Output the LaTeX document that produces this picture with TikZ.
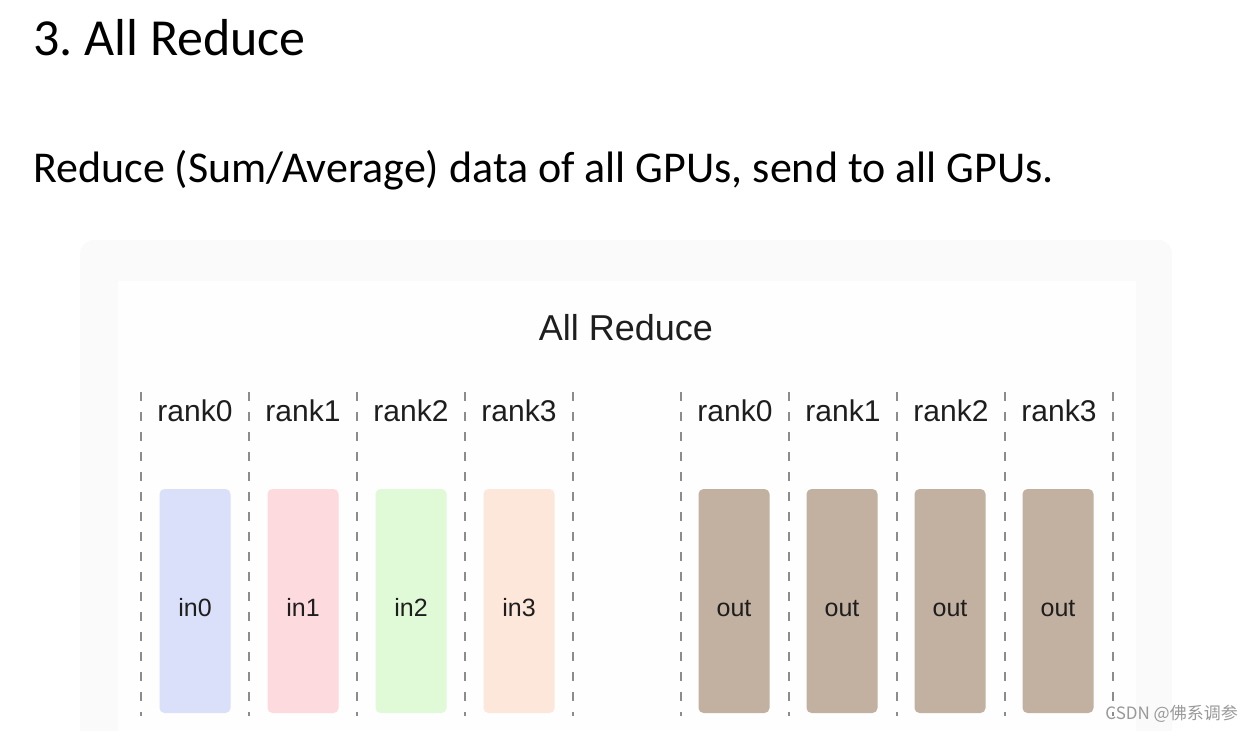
\documentclass[tikz,border=0pt]{standalone}
\usepackage{fontspec}
\setmainfont{Carlito}
\newfontfamily\diafont{Liberation Sans}
\newfontfamily\cjkfont{Noto Sans CJK SC}
\definecolor{inblue}{RGB}{219,224,250}
\definecolor{inpink}{RGB}{252,218,222}
\definecolor{ingreen}{RGB}{224,250,216}
\definecolor{inpeach}{RGB}{253,231,218}
\definecolor{outbrown}{RGB}{194,177,160}
\definecolor{sepgray}{RGB}{140,140,140}
\definecolor{txtdark}{RGB}{30,30,30}
\frenchspacing

\begin{document}
\begin{tikzpicture}[x=1pt,y=-1pt]
\tikzstyle{buf}=[rectangle, rounded corners=5pt, inner sep=0pt,
                 minimum width=71pt, minimum height=224pt, text=txtdark,
                 text height=30pt, text depth=0pt,
                 font=\diafont\fontsize{25}{25}\selectfont]
\tikzstyle{rk}=[inner sep=0pt, text=txtdark, font=\diafont\fontsize{30}{30}\selectfont]
\tikzstyle{sep}=[sepgray, line width=1.3pt, dash pattern=on 9pt off 11pt]
\useasboundingbox (0,0) rectangle (1251,731);
\fill[white] (0,0) rectangle (1251,731);
% panel
\fill[gray!4, rounded corners=14pt] (80,240) rectangle (1172,760);
\fill[gray!1] (118,281) rectangle (1136,760);
% headings
\node[anchor=base west, inner sep=0pt, font=\fontsize{52}{52}\selectfont] (head) at (33,55) {3. All Reduce};
\node[anchor=base west, inner sep=0pt, font=\fontsize{44}{44}\selectfont] (sub) at (33,182) {Reduce (Sum/Average) data of all GPUs, send to all GPUs.};
\node[inner sep=0pt, text=txtdark, font=\diafont\fontsize{36}{36}\selectfont] (ttl) at (626,328) {All Reduce};
% separators
\draw[sep] (141,392)--(141,716);
\draw[sep] (249,392)--(249,716);
\draw[sep] (357,392)--(357,716);
\draw[sep] (465,392)--(465,716);
\draw[sep] (573,392)--(573,716);
\draw[sep] (681,392)--(681,716);
\draw[sep] (789,392)--(789,716);
\draw[sep] (897,392)--(897,716);
\draw[sep] (1005,392)--(1005,716);
\draw[sep] (1113,392)--(1113,716);
% ranks
\node[rk] (r0) at (195,411){rank0};
\node[rk] (r1) at (303,411){rank1};
\node[rk] (r2) at (411,411){rank2};
\node[rk] (r3) at (519,411){rank3};
\node[rk] (s0) at (735,411){rank0};
\node[rk] (s1) at (843,411){rank1};
\node[rk] (s2) at (951,411){rank2};
\node[rk] (s3) at (1059,411){rank3};
% buffers
\node[buf, fill=inblue] (in0) at (195,601){in0};
\node[buf, fill=inpink] (in1) at (303,601){in1};
\node[buf, fill=ingreen] (in2) at (411,601){in2};
\node[buf, fill=inpeach] (in3) at (519,601){in3};
\node[buf, fill=outbrown] (o0) at (734,601){out};
\node[buf, fill=outbrown] (o1) at (842,601){out};
\node[buf, fill=outbrown] (o2) at (950,601){out};
\node[buf, fill=outbrown] (o3) at (1058,601){out};
\node[anchor=base east, inner sep=0pt, text=gray!80, font=\cjkfont\fontsize{17}{17}\selectfont] (wm) at (1238,719) {CSDN @佛系调参};
\end{tikzpicture}
\end{document}
